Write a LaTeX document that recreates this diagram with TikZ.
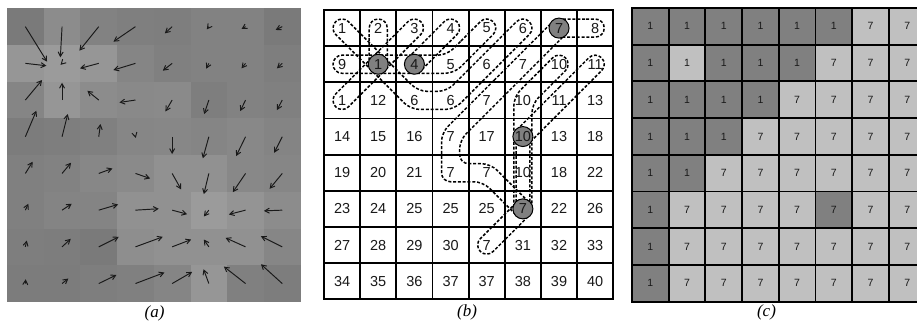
\documentclass[tikz,border=0pt]{standalone}
\usepackage{fontspec}
\setmainfont{Liberation Serif}
\setsansfont{Liberation Sans}
\usetikzlibrary{arrows.meta}
\definecolor{cd}{gray}{0.5}
\definecolor{cl}{gray}{0.753}
\definecolor{ink}{gray}{0.1}
\tikzset{
 vec/.style={ink, line width=0.95pt, -{Straight Barb[length=4.5pt,width=5pt]}},
 gridline/.style={line width=1.9pt, line cap=rect},
 loopline/.style={line width=1.5pt, dash pattern=on 3pt off 1.8pt, rounded corners=9pt},
 numb/.style={font=\sffamily\fontsize{14.5}{16}\selectfont, inner sep=0pt, text=ink},
 numc/.style={font=\sffamily\fontsize{10.5}{12}\selectfont, inner sep=0pt, text=ink},
 seed/.style={circle, draw, fill=cd, line width=1pt, minimum size=20pt, inner sep=0pt},
 captext/.style={font=\itshape\fontsize{17}{20}\selectfont, inner sep=0pt}
}
\begin{document}
\begin{tikzpicture}[x=1pt,y=-1pt]
\useasboundingbox (0,0) rectangle (917,326);
\clip (0,0) rectangle (917,326);
\fill[white] (0,0) rectangle (917,326);
% ---------- (a) ----------
\begin{scope}[shift={(7,8.3)}]
\foreach \row [count=\r from 0] in {
 {122,140,130,127,126,130,130,122},
 {150,155,150,133,128,130,130,126},
 {133,150,140,137,138,126,130,128},
 {124,126,128,134,135,133,136,132},
 {128,130,135,138,145,145,136,134},
 {128,132,132,145,145,155,148,140},
 {126,125,122,142,145,145,145,134},
 {124,124,126,128,133,150,128,125}} {
  \foreach \v [count=\c from 0] in \row {
    \definecolor{tmpc}{RGB}{\v,\v,\v}
    \fill[fill=tmpc] (36.7*\c,36.7*\r) rectangle ++(36.75,36.75);
  }
}
\foreach \dx/\dy [count=\i from 0] in {
 21.7/35,-1.7/30.7,-19.4/24,-22/15,-7.3/6.7,-2/2.7,-4/2.3,-6.6/3.3,
 21/2.4,-1.5/1.5,-18.7/5,-22/6.7,-9.3/7.3,-2.6/5.3,-4/5,-5.3/5,
 16.7/-20,0/-17.3,-11.4/-9.3,-16/2.4,-6.7/11.4,-4.7/14,-5.3/11,-5.3/10,
 11/-26,5.7/-22.7,1.7/-12.7,0.3/1.2,0/17.3,-6/21.6,-9.4/19.3,-8/16,
 7.3/-11.7,9/-10.7,13.7/-5,14.7/5,9/16,-5/20.7,-12.7/18.7,-12.6/15.3,
 3/-6.4,9.7/-6.4,19.3/-5.7,23.3/-1.4,15/4,-5/6.3,-16.7/4.3,-18.3/0.7,
 1.4/-6.3,8.7/-8,20/-10,27.3/-10,19/-7.3,-5/-7.3,-20/-9,-21.3/-10.6,
 0.3/-4.3,6.3/-5,17.7/-8.6,29/-11,20/-11.6,-5.3/-14.3,-21.7/-17,-21.3/-19.3} {
  \pgfmathtruncatemacro\cc{mod(\i,8)}
  \pgfmathtruncatemacro\rr{div(\i,8)}
  \draw[vec] (36.7*\cc+18.35,36.7*\rr+18.35) -- ++(\dx,\dy);
}
\end{scope}
% ---------- (b) ----------
\begin{scope}[shift={(324,10)}, x=36.16pt, y=-36.16pt]
 \foreach \k in {0,...,8} {
   \draw[gridline] (\k,0) -- (\k,8);
   \draw[gridline] (0,\k) -- (8,\k);
 }
 \begin{scope}[shift={(0.5,0.5)}]
  \draw[loopline] (0.323,0.677) -- (-0.354,0) -- (0,-0.354) -- (1.354,1) -- (1,1.354) -- cycle;
  \draw[loopline] (0.75,0.5) -- (0.75,-0.25) -- (1.25,-0.25) -- (1.25,1.25) -- (0.75,1.25) -- cycle;
  \draw[loopline] (1.323,0.323) -- (2,-0.354) -- (2.354,0) -- (1,1.354) -- (0.646,1) -- cycle;
  \draw[loopline] (2.323,0.323) -- (3,-0.354) -- (3.354,0) -- (2,1.354) -- (1.646,1) -- cycle;
  \draw[loopline] (0.5,0.75) -- (1.25,0.75) -- (1.25,1.25) -- (-0.25,1.25) -- (-0.25,0.75) -- cycle;
  \draw[loopline] (3.448,0.198) -- (2.896,0.75) -- (0.75,0.75) -- (0.75,1.25) -- (3.104,1.25) -- (4.354,0) -- (4,-0.354) -- cycle;
  \draw[loopline] (3.948,0.698) -- (2.896,1.75) -- (2.104,1.75) -- (1,0.646) -- (0.646,1) -- (1.896,2.25) -- (3.104,2.25) -- (5.354,0) -- (5,-0.354) -- cycle;
  \draw[loopline] (0.323,1.323) -- (-0.354,2) -- (0,2.354) -- (1.354,1) -- (1,0.646) -- cycle;
  \draw[loopline] (4.375,1.271) -- (2.75,2.896) -- (2.75,4.25) -- (3.896,4.25) -- (5,5.354) -- (5.354,5) -- (4.104,3.75) -- (3.25,3.75) -- (3.25,3.104) -- (6.354,0) -- (6,-0.354) -- cycle;
  \draw[loopline] (6.5,-0.25) -- (7.25,-0.25) -- (7.25,0.25) -- (5.75,0.25) -- (5.75,-0.25) -- cycle;
  \draw[loopline] (5.375,1.271) -- (4.75,1.896) -- (4.75,5.25) -- (5.25,5.25) -- (5.25,2.104) -- (6.354,1) -- (6,0.646) -- cycle;
  \draw[loopline] (5.823,1.823) -- (7,0.646) -- (7.354,1) -- (5,3.354) -- (4.646,3) -- cycle;
  \draw[loopline] (4.323,5.323) -- (3.646,6) -- (4,6.354) -- (5.354,5) -- (5,4.646) -- cycle;
  \draw[loopline, rounded corners=6.8pt] (5.19,4) -- (5.19,5.19) -- (4.81,5.19) -- (4.81,2.81) -- (5.19,2.81) -- cycle;
  \node[seed] (s60) at (6,0) {};
  \node[seed] (s11) at (1,1) {};
  \node[seed] (s21) at (2,1) {};
  \node[seed] (s53) at (5,3) {};
  \node[seed] (s55) at (5,5) {};
  \foreach \t [count=\i from 0] in {
   1,2,3,4,5,6,7,8,
   9,1,4,5,6,7,10,11,
   1,12,6,6,7,10,11,13,
   14,15,16,7,17,10,13,18,
   19,20,21,7,7,10,18,22,
   23,24,25,25,25,7,22,26,
   27,28,29,30,7,31,32,33,
   34,35,36,37,37,38,39,40} {
    \pgfmathtruncatemacro\cc{mod(\i,8)}
    \pgfmathtruncatemacro\rr{div(\i,8)}
    \node[numb] (b\cc-\rr) at (\cc,\rr) {\t};
  }
 \end{scope}
\end{scope}
% ---------- (c) ----------
\begin{scope}[shift={(632,8)}, x=36.7pt, y=-36.7pt]
 \foreach \row [count=\r from 0] in {
  {1/d,1/d,1/d,1/d,1/d,1/d,7/l,7/l},
  {1/d,1/l,1/d,1/d,1/d,7/l,7/l,7/l},
  {1/d,1/d,1/d,1/d,7/l,7/l,7/l,7/l},
  {1/d,1/d,1/d,7/l,7/l,7/l,7/l,7/l},
  {1/d,1/d,7/l,7/l,7/l,7/l,7/l,7/l},
  {1/d,7/l,7/l,7/l,7/l,7/d,7/l,7/l},
  {1/d,7/l,7/l,7/l,7/l,7/l,7/l,7/l},
  {1/d,7/l,7/l,7/l,7/l,7/l,7/l,7/l}} {
   \foreach \lab/\sh [count=\c from 0] in \row {
     \fill[fill=c\sh] (\c,\r) rectangle ++(1,1);
     \node[numc] (c\c-\r) at (\c+0.5,\r+0.5) {\lab};
   }
 }
 \foreach \k in {0,...,8} {
   \draw[gridline] (\k,0) -- (\k,8);
   \draw[gridline] (0,\k) -- (8,\k);
 }
\end{scope}
% ---------- captions ----------
\node[captext] (capa) at (154.5,313) {(a)};
\node[captext] (capb) at (467,312) {(b)};
\node[captext] (capc) at (766.5,312) {(c)};
\end{tikzpicture}
\end{document}
